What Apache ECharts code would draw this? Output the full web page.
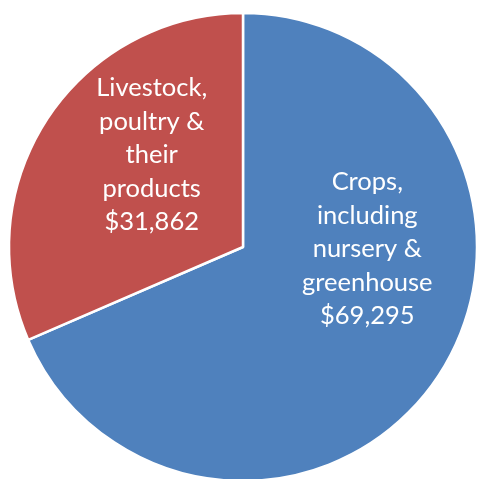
<!DOCTYPE html>
<html><head><meta charset="utf-8">
<script src="https://cdn.jsdelivr.net/npm/echarts@6/dist/echarts.min.js"></script>
<style>html,body{margin:0;padding:0;background:#fff;}#c{width:477px;height:479px;}</style>
</head><body><div id="c"></div>
<script>
const categories = ["Crops,\nincluding\nnursery &\ngreenhouse", "Livestock,\npoultry &\ntheir\nproducts"];
const values = [69295, 31862];
const colors = ["#4F81BD", "#C0504D"];
const labelOffsets = [[24, -64], [9, -26]];

const chart = echarts.init(document.getElementById('c'), null, {renderer: 'canvas'});
chart.setOption({
  animation: false,
  series: [{
    type: 'pie',
    center: [243, 247],
    radius: [0, 234],
    startAngle: 90,
    clockwise: true,
    data: categories.map((n, i) => ({name: n, value: values[i], itemStyle: {color: colors[i]}})),
    itemStyle: {borderColor: '#fff', borderWidth: 2.5},
    label: {
      position: 'inside',
      color: '#fff',
      fontFamily: 'Lato, "Open Sans", sans-serif',
      fontSize: 25.5,
      lineHeight: 33.5,
      align: 'center',
      formatter: p => p.name + '\n$' + p.value.toLocaleString('en-US')
    },
    labelLine: {show: false},
    labelLayout: p => ({dx: labelOffsets[p.dataIndex][0], dy: labelOffsets[p.dataIndex][1]}),
    emphasis: {disabled: true}
  }]
});
</script></body></html>
